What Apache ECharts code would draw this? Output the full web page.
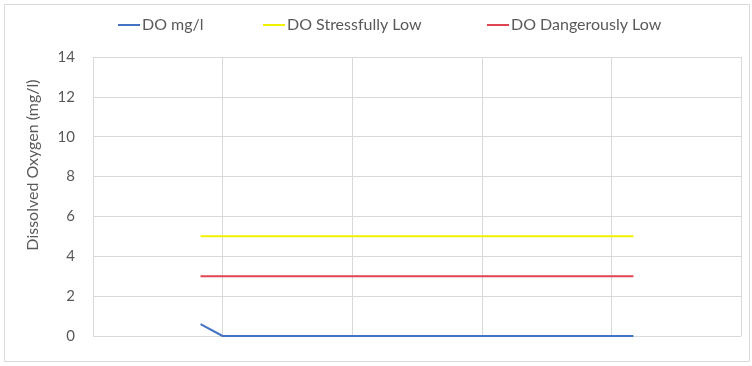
<!DOCTYPE html>
<html><head><meta charset="utf-8">
<script src="https://cdn.jsdelivr.net/npm/echarts@6/dist/echarts.min.js"></script>
<style>html,body{margin:0;padding:0;background:#fff}#c{width:752px;height:366px}</style>
</head><body><div id="c"></div>
<script>
// x positions are in grid-interval units (unlabelled time axis)
const xPoints = [0.83, 1.0, 4.17];
const doMgL = [0.6, 0, 0];
const stressXs = [0.83, 4.17];
const stressVals = [5, 5];
const dangerXs = [0.83, 4.17];
const dangerVals = [3, 3];
const yTicks = [0, 2, 4, 6, 8, 10, 12, 14];
const seriesNames = ['DO mg/l', 'DO Stressfully Low', 'DO Dangerously Low'];
const colors = ['#4472C4', '#F2F200', '#E04552'];

const zip = (xs, ys) => xs.map((x, i) => [x, ys[i]]);
const chart = echarts.init(document.getElementById('c'));
const font = 'Lato, "Open Sans", sans-serif';
const legendLefts = [113, 258, 482];
chart.setOption({
  animation: false,
  textStyle: { fontFamily: font },
  graphic: [
    { type: 'rect', shape: { x: 4.5, y: 4.5, width: 745, height: 357 }, style: { fill: 'none', stroke: '#D9D9D9', lineWidth: 1 } },
    { type: 'text', x: 33, y: 165, rotation: Math.PI / 2,
      style: { text: 'Dissolved Oxygen (mg/l)', fill: '#595959', font: '16px ' + font, align: 'center', verticalAlign: 'middle' } }
  ],
  legend: seriesNames.map((n, i) => ({
    data: [n], left: legendLefts[i], top: 12, icon: 'rect', itemWidth: 22, itemHeight: 2, itemGap: 0,
    textStyle: { color: '#595959', fontSize: 16, fontFamily: font, padding: [0, 0, 0, -3] }
  })),
  grid: { left: 93, right: 11, top: 57, bottom: 30 },
  xAxis: {
    type: 'value', min: 0, max: 5, interval: 1,
    axisLabel: { show: false }, axisTick: { show: false },
    axisLine: { show: false },
    splitLine: { show: true, lineStyle: { color: '#D9D9D9', width: 1 } }
  },
  yAxis: {
    type: 'value', min: yTicks[0], max: yTicks[yTicks.length - 1], interval: 2,
    axisLabel: { color: '#595959', fontSize: 15, margin: 18, fontFamily: font },
    axisLine: { show: false }, axisTick: { show: false },
    splitLine: { lineStyle: { color: '#D9D9D9', width: 1 } }
  },
  series: [
    { name: seriesNames[0], type: 'line', data: zip(xPoints, doMgL), symbol: 'none', lineStyle: { color: colors[0], width: 2 }, itemStyle: { color: colors[0] }, z: 5 },
    { name: seriesNames[1], type: 'line', data: zip(stressXs, stressVals), symbol: 'none', lineStyle: { color: colors[1], width: 2 }, itemStyle: { color: colors[1] } },
    { name: seriesNames[2], type: 'line', data: zip(dangerXs, dangerVals), symbol: 'none', lineStyle: { color: colors[2], width: 2 }, itemStyle: { color: colors[2] } }
  ]
});
</script></body></html>
